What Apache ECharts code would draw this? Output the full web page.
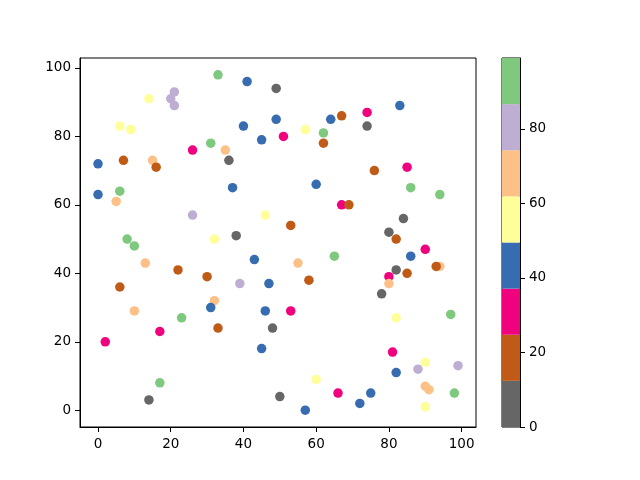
<html>
  <head>
    <meta charset="utf-8">
    <script src="https://cdn.jsdelivr.net/npm/echarts@6/dist/echarts.min.js"></script>
  </head>
  <body style="margin:0;background:#fff">
    <div id="main" style="width:640px;height:480px;"></div>
    <script>
      // accent colormap, reversed (low -> high)
      var cmap = ['#666666', '#bf5b17', '#f0027f', '#386cb0', '#ffff99', '#fdc086', '#beaed4', '#7fc97f'];
      var cMin = 0, cMax = 99;
      var cbarTicks = [0, 20, 40, 60, 80];
      var xTicks = [0, 20, 40, 60, 80, 100];
      var yTicks = [0, 20, 40, 60, 80, 100];

      // point data (color value = middle of its colour band)
      var xs = [33, 41, 49, 14, 21, 20, 21, 6, 9, 40, 49, 45, 51, 31, 35, 26, 36, 0, 7, 15,
                16, 37, 6, 0, 5, 26, 46, 38, 32, 8, 83, 74, 67, 64, 74, 57, 62, 62, 76, 85,
                60, 86, 94, 67, 69, 53, 84, 80, 82, 10, 13, 22, 30, 43, 39, 47, 6, 32, 31, 10,
                46, 23, 17, 33, 48, 2, 45, 17, 14, 50, 90, 86, 65, 55, 94, 93, 82, 85, 80, 80,
                58, 78, 53, 82, 97, 81, 90, 88, 99, 82, 60, 90, 91, 66, 75, 98, 72, 57, 90];
      var ys = [98, 96, 94, 91, 93, 91, 89, 83, 82, 83, 85, 79, 80, 78, 76, 76, 73, 72, 73, 73,
                71, 65, 64, 63, 61, 57, 57, 51, 50, 50, 89, 87, 86, 85, 83, 82, 81, 78, 70, 71,
                66, 65, 63, 60, 60, 54, 56, 52, 50, 48, 43, 41, 39, 44, 37, 37, 36, 32, 30, 29,
                29, 27, 23, 24, 24, 20, 18, 8, 3, 4, 47, 45, 45, 43, 42, 42, 41, 40, 39, 37,
                38, 34, 29, 27, 28, 17, 14, 12, 13, 11, 9, 7, 6, 5, 5, 5, 2, 0, 1];
      var cs = [93, 43, 6, 56, 80, 80, 80, 56, 56, 43, 43, 43, 31, 93, 68, 31, 6, 43, 18, 68,
                18, 43, 93, 43, 68, 80, 56, 6, 56, 93, 43, 31, 18, 43, 6, 56, 93, 18, 18, 31,
                43, 93, 93, 31, 18, 18, 6, 6, 18, 93, 68, 18, 18, 43, 80, 43, 18, 68, 43, 68,
                43, 93, 31, 18, 6, 31, 43, 93, 6, 6, 31, 43, 93, 68, 68, 18, 6, 18, 31, 68,
                18, 6, 31, 56, 93, 31, 56, 80, 80, 43, 56, 68, 68, 31, 43, 93, 43, 43, 56];

      var step = (cMax - cMin) / cmap.length;
      var pieces = cmap.map(function (c, i) {
        return { gte: cMin + i * step, lt: cMin + (i + 1) * step + (i == cmap.length - 1 ? 1 : 0), color: c };
      });
      var points = xs.map(function (x, i) { return [x, ys[i], cs[i]]; });

      var font = { fontFamily: 'DejaVu Sans', fontSize: 13.5, color: '#000' };
      var tick = { show: true, inside: false, length: 5, lineStyle: { color: '#000', width: 1 } };

      var cbarSeries = cmap.map(function (c) {
        return {
          type: 'bar', stack: 'cb', xAxisIndex: 1, yAxisIndex: 1, barWidth: '100%',
          data: [step], itemStyle: { color: c }, silent: true
        };
      });

      var myChart = echarts.init(document.getElementById('main'));
      var option = {
        animation: false,
        backgroundColor: '#fff',
        grid: [
          { left: 80, right: 164, top: 58, bottom: 53, show: true, borderColor: '#000', borderWidth: 1 },
          { left: 502, width: 18, top: 58, bottom: 53, show: true, borderColor: '#000', borderWidth: 1 }
        ],
        visualMap: { show: false, type: 'piecewise', dimension: 2, seriesIndex: 0, pieces: pieces },
        xAxis: [
          {
            type: 'value', gridIndex: 0, min: -4.95, max: 103.95,
            axisLine: { onZero: false, lineStyle: { color: '#000' } },
            axisTick: Object.assign({ customValues: xTicks }, tick),
            axisLabel: Object.assign({ customValues: xTicks, margin: 10 }, font),
            splitLine: { show: false }
          },
          {
            type: 'category', gridIndex: 1, data: [''],
            axisLine: { show: false }, axisTick: { show: false }, axisLabel: { show: false }
          }
        ],
        yAxis: [
          {
            type: 'value', gridIndex: 0, min: -4.9, max: 102.9,
            axisLine: { show: true, onZero: false, lineStyle: { color: '#000' } },
            axisTick: Object.assign({ customValues: yTicks }, tick),
            axisLabel: Object.assign({ customValues: yTicks, margin: 9 }, font),
            splitLine: { show: false }
          },
          {
            type: 'value', gridIndex: 1, position: 'right', min: cMin, max: cMax,
            axisLine: { show: true, lineStyle: { color: '#000' } },
            axisTick: Object.assign({ customValues: cbarTicks }, tick),
            axisLabel: Object.assign({ customValues: cbarTicks, margin: 9 }, font),
            splitLine: { show: false }
          }
        ],
        series: [{
          type: 'scatter', xAxisIndex: 0, yAxisIndex: 0,
          symbolSize: 9.5, itemStyle: { opacity: 1 }, data: points
        }].concat(cbarSeries)
      };
      myChart.setOption(option);
    </script>
  </body>
</html>
